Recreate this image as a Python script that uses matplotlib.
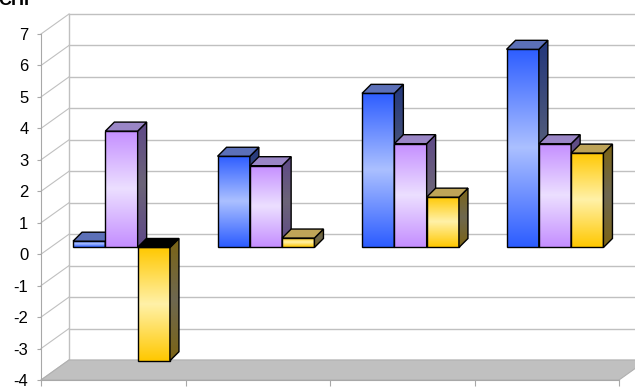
import numpy as np
import matplotlib
matplotlib.use('Agg')
import matplotlib.pyplot as plt
from matplotlib.patches import Polygon
from matplotlib.lines import Line2D
from matplotlib.colors import LinearSegmentedColormap

plt.rcParams['font.family'] = ['Liberation Sans', 'DejaVu Sans']
plt.rcParams['axes.unicode_minus'] = False

# Chart data (CHF per category, three series)
categories = ['A', 'B', 'C', 'D']
series_a = [0.2, 2.9, 4.9, 6.3]
series_b = [3.7, 2.6, 3.3, 3.3]
series_c = [-3.6, 0.3, 1.6, 3.0]
y_ticks = [-4, -3, -2, -1, 0, 1, 2, 3, 4, 5, 6, 7]
y_tick_labels = ['-4', '-3', '-2', '-1', '0', '1', '2', '3', '4', '5', '6', '7']

# Face colours: (front end, front middle, side end, side middle, top)
styles = [
    ('#2c5cff', '#abc0ff', '#22367c', '#525c7a', '#5c70b8'),
    ('#c48eff', '#ecdfff', '#5e4888', '#6c6478', '#9a86c6'),
    ('#ffc800', '#fff1a8', '#7c6414', '#6e6850', '#bea458'),
]

fig = plt.figure(figsize=(6.35, 3.87), dpi=100)
ax = fig.add_axes([41 / 635, 7 / 387, 578 / 635, 346 / 387])
ax.patch.set_visible(False)

n_groups = len(categories)
y_min, y_max = y_ticks[0], y_ticks[-1]
px_x = 578 / n_groups
px_y = 346 / (y_max - y_min)

# oblique depth offsets (data units)
WALL_DX, WALL_DY = 28 / px_x, 20 / px_y
BAR_DX, BAR_DY = 9 / px_x, 9 / px_y
SHIFT_X, SHIFT_Y = 8.25 / px_x, 6.7 / px_y
BAR_W = 32.3 / px_x

grid_col = '#c0c0c0'
right_end = n_groups + 0.5

# back wall + left wall gridlines
for v in y_ticks:
    ax.add_line(Line2D([WALL_DX, right_end], [v + WALL_DY, v + WALL_DY],
                       color=grid_col, lw=1.0, clip_on=False, zorder=1))
    ax.add_line(Line2D([0, WALL_DX], [v, v + WALL_DY],
                       color=grid_col, lw=0.8, clip_on=False, zorder=1))
ax.add_line(Line2D([WALL_DX, WALL_DX], [y_min + WALL_DY, y_max + WALL_DY],
                   color=grid_col, lw=1.0, clip_on=False, zorder=1))

# floor
floor = Polygon([(0, y_min), (n_groups, y_min),
                 (n_groups + WALL_DX, y_min + WALL_DY), (WALL_DX, y_min + WALL_DY)],
                closed=True, facecolor='#c0c0c0', edgecolor='#b0b0b0', lw=0.8,
                clip_on=False, zorder=2)
ax.add_patch(floor)

grad = np.linspace(0, 1, 256).reshape(-1, 1)
z = [3]


def gradient_face(verts, c_end, c_mid):
    cmap = LinearSegmentedColormap.from_list('g', [c_end, c_mid, c_end])
    xs = [p[0] for p in verts]
    ys = [p[1] for p in verts]
    poly = Polygon(verts, closed=True, facecolor='none', edgecolor='none')
    ax.add_patch(poly)
    im = ax.imshow(grad, extent=(min(xs), max(xs), min(ys), max(ys)), origin='lower',
                   aspect='auto', cmap=cmap, interpolation='bilinear', zorder=z[0])
    im.set_clip_path(poly)
    ax.add_patch(Polygon(verts, closed=True, facecolor='none', edgecolor='black',
                         lw=1.0, zorder=z[0] + 0.5))
    z[0] += 1


def flat_face(verts, color):
    ax.add_patch(Polygon(verts, closed=True, facecolor=color, edgecolor='black',
                         lw=1.0, zorder=z[0]))
    z[0] += 1


all_series = [series_a, series_b, series_c]
for g in range(n_groups):
    for s, values in enumerate(all_series):
        val = values[g]
        front_end, front_mid, side_end, side_mid, top_col = styles[s]
        x0 = g + (1 - len(all_series) * BAR_W) / 2 + s * BAR_W + SHIFT_X
        x1 = x0 + BAR_W
        base = SHIFT_Y
        lo, hi = min(base, base + val), max(base, base + val)
        gradient_face([(x0, lo), (x1, lo), (x1, hi), (x0, hi)], front_end, front_mid)
        gradient_face([(x1, lo), (x1 + BAR_DX, lo + BAR_DY), (x1 + BAR_DX, hi + BAR_DY),
                       (x1, hi)], side_end, side_mid)
        flat_face([(x0, hi), (x1, hi), (x1 + BAR_DX, hi + BAR_DY), (x0 + BAR_DX, hi + BAR_DY)],
                  top_col if val >= 0 else '#000000')

ax.set_xlim(0, n_groups)
ax.set_ylim(y_min, y_max)
ax.set_yticks(y_ticks)
ax.set_yticklabels(y_tick_labels)
ax.set_xticks(range(n_groups + 1))
ax.set_xticklabels([])
for side in ['top', 'right']:
    ax.spines[side].set_visible(False)
for side in ['left', 'bottom']:
    ax.spines[side].set_color('#a8a8a8')
    ax.spines[side].set_linewidth(0.8)
    ax.spines[side].set_zorder(2.5)
ax.tick_params(axis='y', length=3, color='#a8a8a8', labelsize=12, pad=6)
ax.tick_params(axis='x', length=4.5, color='#a8a8a8')

fig.text(-2 / 635, 1 - 5 / 387, 'CHF', fontsize=13, fontweight='bold', va='baseline', ha='left')

fig.savefig('out.png', dpi=100)
